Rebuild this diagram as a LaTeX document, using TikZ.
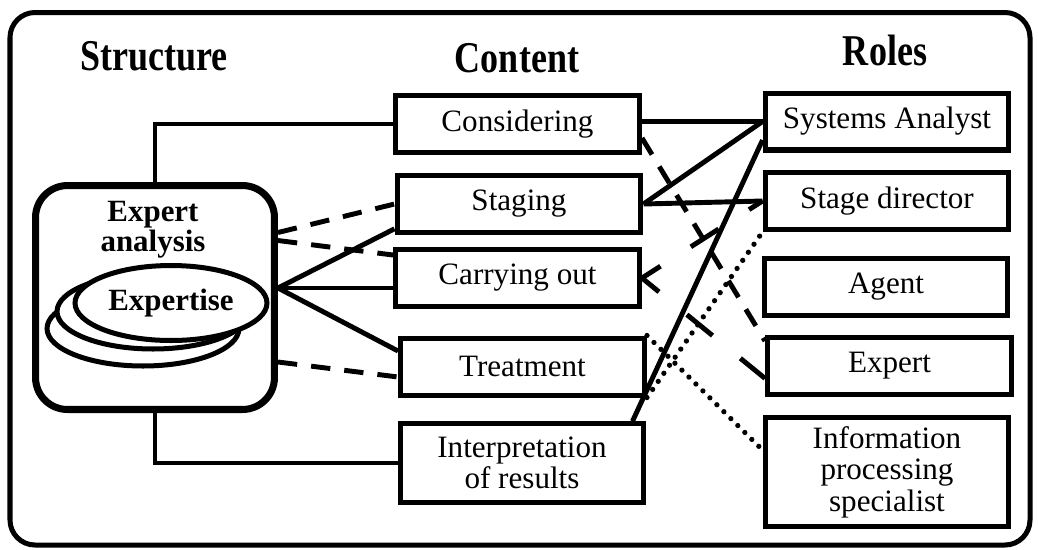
\documentclass[tikz,border=0pt]{standalone}
\usepackage{fontspec}
\setmainfont{Liberation Serif}
\newfontfamily\headfont[FakeStretch=0.82]{Liberation Serif}
\usetikzlibrary{calc}
\usetikzlibrary{shapes.geometric}

\tikzset{
    box/.style={draw, line width=2.85pt, minimum width=4.88cm, minimum height=1.14cm, inner sep=0pt, align=center, font=\fontsize{17.7}{18}\selectfont},
    head/.style={anchor=base, font=\headfont\bfseries\fontsize{25}{30}\selectfont},
    disc/.style={draw, ellipse, fill=white, line width=2.85pt, inner sep=0pt, minimum width=3.84cm, minimum height=1.5cm},
    link/.style={line width=2.8pt},
    dashlink/.style={line width=2.8pt, dash pattern=on 11pt off 8pt},
    sparselink/.style={line width=2.8pt, dash pattern=on 18.8pt off 20.5pt, dash phase=6.3pt},
    dotlink/.style={line width=3pt, line cap=round, dash pattern=on 0pt off 5.6pt}
}

\begin{document}
\begin{tikzpicture}[x=0.02cm, y=-0.02cm]
        \useasboundingbox (0,0) rectangle (1038,549);
        
        %Frame
        \draw[line width=2.85pt, rounded corners=0.5cm] (10,12.5) rectangle (1030,545);
        
        %Headings
        \node[head] (hstruct) at (154,70) {Structure};
        \node[head] (hcontent) at (517,72) {Content};
        \node[head] (hroles) at (885,65) {Roles};
        
        %Structure block
        \node[draw, line width=4pt, rounded corners=0.64cm, minimum width=4.78cm, minimum height=4.48cm] (ea) at (155,297.5) {};
        \node[anchor=north, inner sep=0pt, align=center, font=\bfseries\fontsize{17.6}{17}\selectfont] (eatext) at (153,201) {Expert\\analysis};
        \node[disc] (disc3) at (143,328.5) {};
        \node[disc] (disc2) at (153,311.5) {};
        \node[disc, font=\bfseries\fontsize{17.6}{17}\selectfont] (disc1) at (171,303) {Expertise};
        
        %Content nodes
        \node[box] (consid) at (517.5,124) {Considering};
        \node[box] (stage) at (519,204) {Staging};
        \node[box] (carry) at (517.5,278) {Carrying out};
        \node[box] (treat) at (522.5,366.5) {Treatment};
        \node[box, minimum height=1.57cm] (interp) at (522,463) {Interpretation\\of results};
        
        %Role nodes
        \node[box] (analyst) at (887,121.5) {Systems Analyst};
        \node[box] (director) at (887,201) {Stage director};
        \node[box] (agent) at (886,287) {Agent};
        \node[box] (expert) at (889.5,366) {Expert};
        \node[box, minimum height=2.18cm] (infospec) at (887,472) {Information\\processing\\specialist};
        
        \coordinate (hub) at ($(ea.east)+(0,-9.5)$);
        
        %Structure to content
        \draw[link] (ea.north) |- (consid.west);
        \draw[link] (ea.south) |- (interp.west);
        \draw[link] (hub) -- ($(stage.west)!0.8!(stage.south west)$);
        \draw[link] (hub) -- (hub -| carry.west);
        \draw[link] (hub) -- ($(treat.west)!0.5!(treat.north west)$);
        \draw[dashlink] ($(ea.east)+(0,-65)$) -- (stage.west);
        \draw[dashlink] ($(ea.east)+(0,-57)$) -- ($(carry.north west)+(0,8)$);
        \draw[dashlink] ($(ea.east)+(0,64.5)$) -- ($(treat.west)+(0,10.5)$);
        
        %Content to roles
        \draw[link] (consid.east |- analyst.west) -- (analyst.west);
        \draw[link] (stage.east) -- (analyst.west);
        \draw[link] (stage.east) -- (director.west);
        \draw[link] ($(interp.north east)+(-14,0)$) -- ($(analyst.west)!0.6!(analyst.south west)$);
        \draw[dashlink] ($(consid.east)+(0,14)$) -- ($(expert.north west)+(0,6)$);
        \draw[sparselink] (carry.east) -- (director.west);
        \draw[sparselink] (carry.east) -- ($(expert.south west)!0.3!(expert.north west)$);
        \draw[dotlink] (treat.north east) -- ($(infospec.west)+(0,-22)$);
        \draw[dotlink] (treat.south east) -- (director.south west);
        
    \end{tikzpicture}
\end{document}
